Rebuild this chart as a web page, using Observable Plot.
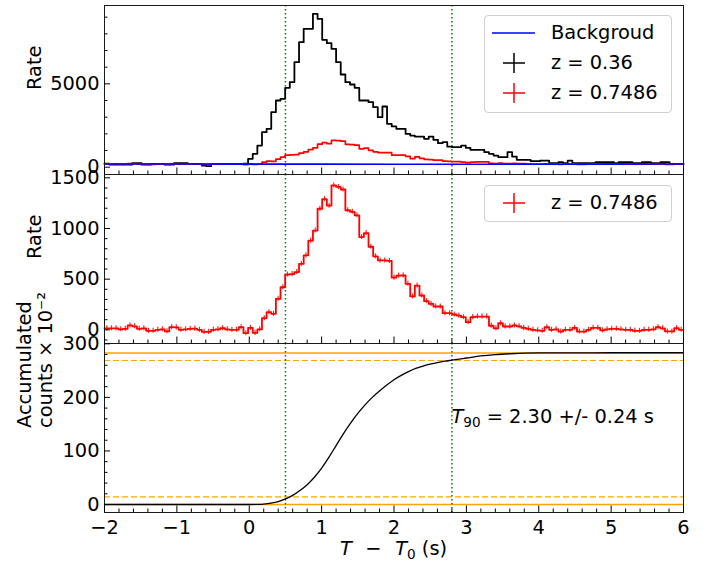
<!DOCTYPE html>
<html>
<head>
<meta charset="utf-8">
<script src="https://cdn.jsdelivr.net/npm/d3@7"></script>
<script src="https://cdn.jsdelivr.net/npm/@observablehq/plot@0.6"></script>
<style>
  html, body { margin: 0; padding: 0; background: #ffffff; }
  #chart { position: relative; width: 706px; height: 561px; font-family: "DejaVu Sans", sans-serif; color: #000; }
  #chart > svg { position: absolute; left: 0; overflow: visible; }
  .legend { position: absolute; left: 484px; width: 188px; box-sizing: border-box; border: 1px solid #cfcfcf; border-radius: 4px; background: rgba(255,255,255,0.8); }
  .row { position: absolute; left: 0; width: 186px; height: 26px; }
  .row svg { position: absolute; left: 0; top: 0; }
  .row span { position: absolute; left: 66px; top: 0; line-height: 26px; font-size: 19.4px; white-space: pre; }
</style>
</head>
<body>
<div id="chart"></div>
<script>
// ---------------- data ----------------
const tStart = -2;          // start of first light-curve bin (s)
const binWidth = 0.064;     // light-curve bin width (s)

// z = 0.36 light curve (top panel, black)
const blackRate = [
  220,160,150,150,150,160,240,240,150,150,
  200,200,200,150,150,240,240,240,200,200,
  200,100,60,200,200,200,200,200,200,200,
  220,500,800,1300,2100,2300,3300,4000,4100,4760,
  5100,6300,7500,8300,8300,9200,8900,7640,7440,7100,
  6300,5560,5100,4960,4760,4000,4000,3900,3600,3000,
  3640,2600,2450,2300,2300,2000,1900,1840,1840,1700,
  1840,1640,1440,1500,1240,1200,1200,1300,1160,1040,
  1040,1040,900,800,700,600,600,900,640,440,
  440,440,360,360,400,400,240,240,300,240,
  400,240,240,240,240,240,300,300,300,300,
  240,300,300,300,240,240,300,300,240,240,
  300,300,200,200,200
];

// z = 0.7486 light curve as drawn in the top panel (red)
const redTopRate = [
  200,190,195,180,185,215,205,185,190,170,
  170,180,185,165,205,200,180,185,190,192,
  180,165,165,180,185,195,185,180,180,205,
  160,200,165,185,300,360,350,480,600,720,
  740,760,840,920,1060,1160,1380,1470,1420,1610,
  1600,1570,1370,1350,1320,1100,1140,1010,920,880,
  880,870,720,730,730,650,520,620,530,470,
  450,420,420,360,350,340,330,310,270,310,
  320,320,320,230,210,250,220,220,230,220,
  210,200,190,185,180,205,190,195,175,190,
  190,205,175,175,190,205,205,185,195,200,
  200,195,190,190,180,180,190,190,195,210,
  200,175,175,200,190
];

// z = 0.7486 light curve (middle panel, red)
const redRate = [
  15,15,15,5,10,43,35,10,15,-10,
  -10,0,5,-15,26,24,0,5,10,12,
  0,-20,-20,0,5,16,5,0,0,26,
  -33,20,-30,5,115,174,158,306,420,546,
  550,570,650,735,880,980,1195,1290,1225,1425,
  1410,1385,1180,1165,1130,915,955,820,725,685,
  685,680,515,535,536,454,330,437,339,283,
  256,230,230,164,164,151,140,125,75,125,
  131,131,131,40,15,65,33,33,43,35,
  19,10,0,-5,-10,26,0,5,-17,0,
  0,19,-17,-17,0,19,19,-5,5,10,
  10,5,0,0,-10,-10,0,0,5,26,
  15,-16,-16,16,0
];
const redErr = 25;          // half-length of the red error bars

// background fit (blue)
const bgTime = [-2, -1, 0, 1, 2, 3, 4, 5, 6];
const bgRate = [195, 190, 186, 182, 180, 180, 181, 184, 188];

// accumulated counts (x 10^-2)
const cumTime = [-2,-1,0,0.1,0.2,0.3,0.4,0.5,0.6,0.7,0.8,0.9,1.0,1.1,1.2,1.3,1.4,1.5,1.6,1.7,1.8,1.9,2.0,2.1,2.2,2.3,2.4,2.5,2.6,2.7,2.8,2.9,3.0,3.2,3.4,3.6,3.8,4.0,4.5,5,5.5,6];
const cumCounts = [0,0,0,0.2,0.8,2.5,5.5,10.5,17,26,37,51,68,88,110,132,152,170,186,200,212,223,233,241,248,254,258.5,262,265,267.5,269.5,271.5,273.5,277.5,280,281.5,282.5,283,283.2,283.3,283.3,283.3];

const t90Bounds = [0.5, 2.8];
const solidLevels = [0, 283];
const dashedLevels = [14.15, 268.85];
const t90Text = {x: 2.8, y: 164, value: " = 2.30 +/- 0.24 s"};

// ticks
const xMajor = [-2, -1, 0, 1, 2, 3, 4, 5, 6];
const xMinor = d3.range(-20, 61, 2).map(v => v / 10).filter(v => v % 1 !== 0);
const yTopMajor = [0, 5000];
const yTopMinor = [1000, 2000, 3000, 4000, 6000, 7000, 8000, 9000];
const yMidMajor = [0, 500, 1000, 1500];
const yMidMinor = [-100, 100, 200, 300, 400, 600, 700, 800, 900, 1100, 1200, 1300, 1400];
const yBotMajor = [0, 100, 200, 300];
const yBotMinor = [20, 40, 60, 80, 120, 140, 160, 180, 220, 240, 260, 280];

const legendTop = [
  {label: "Backgroud", color: "blue", kind: "line"},
  {label: "z = 0.36", color: "black", kind: "plus"},
  {label: "z = 0.7486", color: "red", kind: "plus"}
];
const legendMid = [{label: "z = 0.7486", color: "red", kind: "plus"}];

// ---------------- helpers ----------------
const W = 706, ML = 104, MR = 23;
const FS = 19.4;
const fmt = d => (d < 0 ? "\u2212" + Math.abs(d) : String(d));
const stepData = vals => {
  const d = vals.map((v, i) => ({t: tStart + i * binWidth, v}));
  d.push({t: tStart + vals.length * binWidth, v: vals[vals.length - 1]});
  return d;
};
const centerData = vals => vals.map((v, i) => ({t: tStart + (i + 0.5) * binWidth, v}));
const style = {background: "transparent", overflow: "visible", fontFamily: "\"DejaVu Sans\", sans-serif", fontSize: FS + "px", color: "black"};
const green = () => Plot.ruleX(t90Bounds, {stroke: "green", strokeWidth: 1.5, strokeDasharray: "1.5,2.5"});
const frame = () => Plot.frame({stroke: "#1a1a1a", strokeWidth: 1});
const xTicks = () => [
  Plot.axisX({anchor: "bottom", ticks: xMajor, tickSize: -6.5, fill: "none", label: null}),
  Plot.axisX({anchor: "bottom", ticks: xMinor, tickSize: -3.5, fill: "none", label: null})
];
const yAxis = (major, minor) => [
  Plot.axisY({anchor: "left", ticks: major, tickSize: -6, fill: "none", label: null}),
  Plot.axisY({anchor: "left", ticks: minor, tickSize: -3.5, fill: "none", label: null}),
  Plot.axisY({anchor: "left", ticks: major, tickSize: 0, tickPadding: 5, tickFormat: fmt, label: null, fontSize: FS})
];
const yLabel = txt => Plot.text([txt], {text: d => d, frameAnchor: "left", dx: -70, rotate: -90, lineAnchor: "middle", fontSize: FS, lineHeight: 1.12});

// ---------------- panels ----------------
const chart = document.getElementById("chart");

const topPlot = Plot.plot({
  width: W, height: 174, marginTop: 5, marginBottom: 0, marginLeft: ML, marginRight: MR,
  style,
  x: {domain: [-2, 6], label: null},
  y: {domain: [-438, 9700], label: null},
  marks: [
    green(),
    Plot.line(stepData(blackRate), {x: "t", y: "v", curve: "step-after", stroke: "black", strokeWidth: 1.8}),
    Plot.line(stepData(redTopRate), {x: "t", y: "v", curve: "step-after", stroke: "red", strokeWidth: 1.7}),
    Plot.line(bgTime.map((t, i) => ({t, v: bgRate[i]})), {x: "t", y: "v", stroke: "blue", strokeWidth: 1.6}),
    frame(),
    ...xTicks(),
    ...yAxis(yTopMajor, yTopMinor),
    yLabel("Rate")
  ]
});
topPlot.style.top = "0px";
chart.appendChild(topPlot);

const midPlot = Plot.plot({
  width: W, height: 169, marginTop: 0, marginBottom: 0, marginLeft: ML, marginRight: MR,
  style,
  x: {domain: [-2, 6], label: null},
  y: {domain: [-135, 1533], label: null},
  marks: [
    green(),
    Plot.ruleX(centerData(redRate), {x: "t", y1: d => d.v - redErr, y2: d => d.v + redErr, stroke: "red", strokeWidth: 1.2, strokeOpacity: 0.85}),
    Plot.line(stepData(redRate), {x: "t", y: "v", curve: "step-after", stroke: "red", strokeWidth: 1.8}),
    frame(),
    ...xTicks(),
    ...yAxis(yMidMajor, yMidMinor),
    yLabel("Rate")
  ]
});
midPlot.style.top = "174px";
chart.appendChild(midPlot);

const botPlot = Plot.plot({
  width: W, height: 218, marginTop: 0, marginBottom: 49, marginLeft: ML, marginRight: MR,
  style,
  x: {domain: [-2, 6], label: null},
  y: {domain: [-14.9, 300.6], label: null},
  marks: [
    Plot.ruleY(solidLevels, {stroke: "orange", strokeWidth: 1.5}),
    Plot.ruleY(dashedLevels, {stroke: "orange", strokeWidth: 1.2, strokeDasharray: "6,3"}),
    green(),
    Plot.line(cumTime.map((t, i) => ({t, v: cumCounts[i]})), {x: "t", y: "v", curve: "monotone-x", stroke: "black", strokeWidth: 1.3}),
    frame(),
    ...xTicks(),
    Plot.axisX({anchor: "bottom", ticks: xMajor, tickSize: 0, tickPadding: 7.7, tickFormat: fmt, label: null, fontSize: FS}),
    ...yAxis(yBotMajor, yBotMinor),
    yLabel("Accumulated\ncounts \u00d7 10\u207b\u00b2")
  ]
});
botPlot.style.top = "343px";
chart.appendChild(botPlot);

// x-axis title with italic T and subscript
{
  const t = d3.select(botPlot).append("text")
    .attr("x", (ML + W - MR) / 2).attr("y", 212)
    .attr("text-anchor", "middle").attr("font-size", FS).attr("fill", "black");
  t.append("tspan").attr("font-style", "italic").text("T");
  t.append("tspan").text("\u2002\u2009\u2212\u2002\u2009");
  t.append("tspan").attr("font-style", "italic").text("T");
  t.append("tspan").attr("font-size", FS * 0.7).attr("dy", 4).text("0");
  t.append("tspan").attr("dy", -4).text(" (s)");
}
// T90 annotation
{
  const sx = botPlot.scale("x"), sy = botPlot.scale("y");
  const t = d3.select(botPlot).append("text")
    .attr("x", sx.apply(t90Text.x)).attr("y", sy.apply(t90Text.y)).attr("dy", "0.35em")
    .attr("text-anchor", "start").attr("font-size", FS).attr("fill", "black");
  t.append("tspan").attr("font-style", "italic").text("T");
  t.append("tspan").attr("font-size", FS * 0.7).attr("dy", 4).text("90");
  t.append("tspan").attr("dy", -4).text(t90Text.value);
}

// ---------------- legends ----------------
function makeLegend(items, top, height) {
  const box = document.createElement("div");
  box.className = "legend";
  box.style.top = top + "px";
  box.style.height = height + "px";
  items.forEach((it, i) => {
    const row = document.createElement("div");
    row.className = "row";
    row.style.top = (4 + i * 30) + "px";
    const svg = d3.create("svg").attr("width", 60).attr("height", 26);
    if (it.kind === "line") {
      svg.append("line").attr("x1", 7).attr("x2", 50).attr("y1", 13).attr("y2", 13).attr("stroke", it.color).attr("stroke-width", 1.5);
    } else {
      svg.append("line").attr("x1", 18).attr("x2", 40).attr("y1", 13).attr("y2", 13).attr("stroke", it.color).attr("stroke-width", 1.5);
      svg.append("line").attr("x1", 29).attr("x2", 29).attr("y1", 3).attr("y2", 23).attr("stroke", it.color).attr("stroke-width", 1.5);
    }
    row.appendChild(svg.node());
    const sp = document.createElement("span");
    sp.textContent = it.label;
    row.appendChild(sp);
    box.appendChild(row);
  });
  chart.appendChild(box);
}
makeLegend(legendTop, 15, 98);
makeLegend(legendMid, 185, 37);
</script>
</body>
</html>
